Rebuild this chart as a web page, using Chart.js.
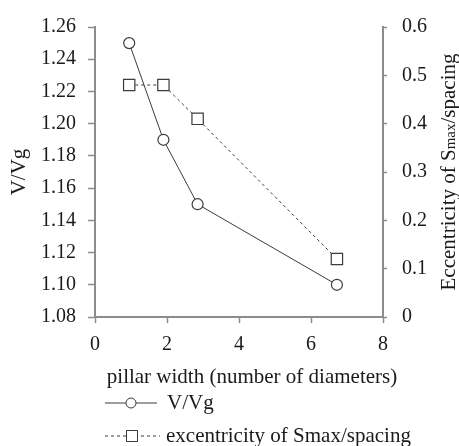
<!DOCTYPE html>
<html>
<head>
<meta charset="utf-8">
<script src="https://cdn.jsdelivr.net/npm/chart.js@4.4.1/dist/chart.umd.min.js"></script>
<style>
  html, body { margin: 0; padding: 0; background: #fff; }
  #wrap { width: 459px; height: 446px; position: relative; }
</style>
</head>
<body>
<div id="wrap"><canvas id="chart"></canvas></div>
<script>
// data
const pillarWidth = [0.95, 1.9, 2.85, 6.72];
const velocityRatio = [1.25, 1.19, 1.15, 1.10];
const eccentricity = [0.48, 0.48, 0.41, 0.12];

const seriesNames = ['V/Vg', 'excentricity of Smax/spacing'];
const xTitle = 'pillar width (number of diameters)';
const leftTitle = 'V/Vg';
const rightTitleParts = ['Eccentricity of S', 'max', '/spacing'];

const xTicks = { min: 0, max: 8, step: 2 };
const leftTicks = { min: 1.08, max: 1.26, step: 0.02 };
const rightTicks = { min: 0, max: 0.6, step: 0.1 };

const FONT_FAMILY = '"Liberation Serif", "Times New Roman", serif';
const TICK_SIZE = 20;
const TITLE_SIZE = 21;
const TEXT_COLOR = '#1a1a1a';
const AXIS_COLOR = '#8c8c8c';
const LINE_COLOR = '#3c3c3c';

function toPoints(xs, ys) {
    return xs.map((x, i) => ({ x: x, y: ys[i] }));
}

function axisStyle(tickLength) {
    return {
        grid: {
            display: true,
            drawOnChartArea: false,
            drawTicks: true,
            tickLength: tickLength,
            tickColor: AXIS_COLOR,
            tickWidth: 1.5
        },
        border: { display: true, color: AXIS_COLOR, width: 2 }
    };
}

// titles + legend are drawn by hand (mixed font sizes, bottom-up right title)
const decorations = {
    id: 'decorations',
    afterDraw(chart) {
        const ctx = chart.ctx;
        const area = chart.chartArea;
        const midY = (area.top + area.bottom) / 2;
        const font = TITLE_SIZE + 'px ' + FONT_FAMILY;
        const smallFont = '15px ' + FONT_FAMILY;

        ctx.save();
        ctx.fillStyle = TEXT_COLOR;
        ctx.font = font;

        // x axis title
        ctx.textAlign = 'center';
        ctx.textBaseline = 'middle';
        ctx.fillText(xTitle, area.left + 157, area.bottom + 60);

        // left title
        ctx.save();
        ctx.translate(19, midY);
        ctx.rotate(-Math.PI / 2);
        ctx.fillText(leftTitle, 0, 0);
        ctx.restore();

        // right title, "max" in a smaller size
        ctx.save();
        ctx.translate(455, midY);
        ctx.rotate(-Math.PI / 2);
        ctx.textAlign = 'left';
        ctx.textBaseline = 'alphabetic';
        const fonts = [font, smallFont, font];
        let total = 0;
        const widths = rightTitleParts.map((t, i) => {
            ctx.font = fonts[i];
            const w = ctx.measureText(t).width;
            total += w;
            return w;
        });
        let cx = -total / 2;
        rightTitleParts.forEach((t, i) => {
            ctx.font = fonts[i];
            ctx.fillText(t, cx, 0);
            cx += widths[i];
        });
        ctx.restore();

        // legend
        ctx.font = font;
        ctx.textAlign = 'left';
        ctx.textBaseline = 'middle';
        ctx.strokeStyle = LINE_COLOR;
        ctx.lineWidth = 1;

        const row1 = area.bottom + 86;
        const row2 = area.bottom + 119;
        const lx = area.left + 10;

        ctx.beginPath();
        ctx.moveTo(lx, row1);
        ctx.lineTo(lx + 52, row1);
        ctx.stroke();
        ctx.beginPath();
        ctx.arc(lx + 26, row1, 5, 0, Math.PI * 2);
        ctx.fillStyle = '#fff';
        ctx.fill();
        ctx.stroke();
        ctx.fillStyle = TEXT_COLOR;
        ctx.fillText(seriesNames[0], lx + 62, row1);

        ctx.setLineDash([3, 3]);
        ctx.beginPath();
        ctx.moveTo(lx, row2);
        ctx.lineTo(lx + 55, row2);
        ctx.stroke();
        ctx.setLineDash([]);
        ctx.fillStyle = '#fff';
        ctx.fillRect(lx + 21.5, row2 - 5.5, 11, 11);
        ctx.strokeRect(lx + 21.5, row2 - 5.5, 11, 11);
        ctx.fillStyle = TEXT_COLOR;
        ctx.fillText(seriesNames[1], lx + 61, row2);

        ctx.restore();
    }
};

Chart.defaults.font.family = FONT_FAMILY;
Chart.defaults.font.size = TICK_SIZE;
Chart.defaults.color = TEXT_COLOR;

new Chart(document.getElementById('chart'), {
    type: 'scatter',
    data: {
        datasets: [{
            label: seriesNames[0],
            data: toPoints(pillarWidth, velocityRatio),
            yAxisID: 'y',
            showLine: true,
            borderColor: LINE_COLOR,
            borderWidth: 1,
            pointStyle: 'circle',
            pointRadius: 5.5,
            pointBackgroundColor: '#fff',
            pointBorderColor: LINE_COLOR,
            pointBorderWidth: 1.2
        }, {
            label: seriesNames[1],
            data: toPoints(pillarWidth, eccentricity),
            yAxisID: 'y1',
            showLine: true,
            borderColor: LINE_COLOR,
            borderWidth: 1,
            borderDash: [3, 3],
            pointStyle: 'rect',
            pointRadius: 8,
            pointBackgroundColor: '#fff',
            pointBorderColor: LINE_COLOR,
            pointBorderWidth: 1.2
        }]
    },
    options: {
        responsive: true,
        maintainAspectRatio: false,
        animation: false,
        layout: { padding: { top: 23, left: 0, right: 0, bottom: 0 } },
        plugins: {
            legend: { display: false },
            tooltip: { enabled: false }
        },
        scales: {
            x: {
                type: 'linear',
                min: xTicks.min,
                max: xTicks.max,
                ticks: { stepSize: xTicks.step, padding: 10 },
                afterFit: s => { s.height = 129; },
                ...axisStyle(6)
            },
            y: {
                position: 'left',
                min: leftTicks.min,
                max: leftTicks.max,
                ticks: {
                    stepSize: leftTicks.step,
                    padding: 12,
                    callback: v => v.toFixed(2)
                },
                afterFit: s => { s.width = 95; },
                ...axisStyle(7)
            },
            y1: {
                position: 'right',
                min: rightTicks.min,
                max: rightTicks.max,
                ticks: {
                    stepSize: rightTicks.step,
                    padding: 15,
                    callback: v => (Math.abs(v) < 1e-9 ? '0' : v.toFixed(1))
                },
                afterFit: s => { s.width = 76; },
                ...axisStyle(4)
            }
        }
    },
    plugins: [decorations]
});
</script>
</body>
</html>
